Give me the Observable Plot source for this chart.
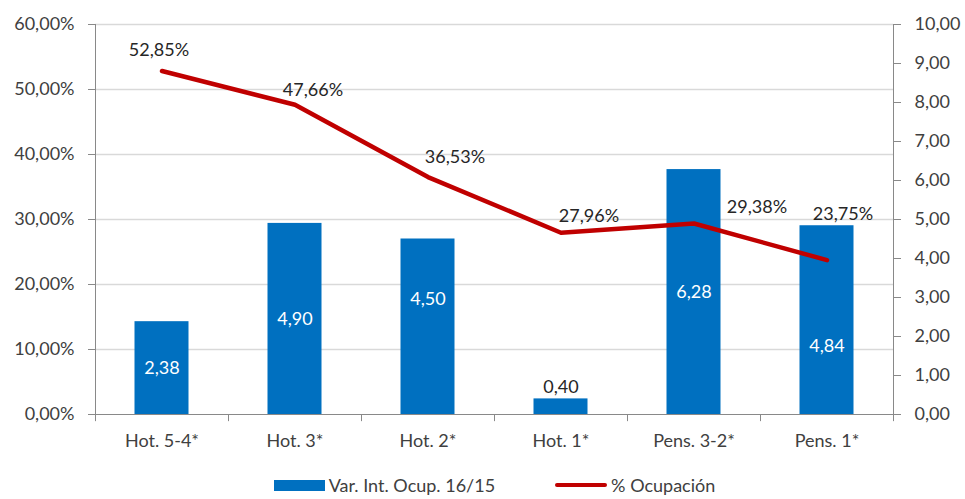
<!DOCTYPE html>
<html><head><meta charset="utf-8">
<script src="https://cdn.jsdelivr.net/npm/d3@7"></script>
<script src="https://cdn.jsdelivr.net/npm/@observablehq/plot@0.6"></script>
<style>
html,body{margin:0;padding:0;background:#fff;}
body{width:965px;height:499px;overflow:hidden;font-family:Lato, "Noto Sans", sans-serif;}
#legend{display:flex;justify-content:center;align-items:center;height:26px;font-size:18px;color:#404040;padding-left:24px;}
.item{display:flex;align-items:center;margin:0 30px;}
.sw-bar{width:51px;height:11px;background:#0070C0;margin-right:4px;}
.sw-line{width:52px;height:4px;border-radius:2px;background:#C00000;margin-right:4px;}
</style></head><body>
<div id="chart"></div>
<div id="legend"></div>
<script>
const categories = ["Hot. 5-4*", "Hot. 3*", "Hot. 2*", "Hot. 1*", "Pens. 3-2*", "Pens. 1*"];
const variacion = [2.38, 4.90, 4.50, 0.40, 6.28, 4.84];      // right axis
const ocupacion = [52.85, 47.66, 36.53, 27.96, 29.38, 23.75]; // left axis (%)
const leftTicks = [0, 10, 20, 30, 40, 50, 60];
const rightTicks = [0, 1, 2, 3, 4, 5, 6, 7, 8, 9, 10];
const seriesNames = ["Var. Int. Ocup. 16/15", "% Ocupación"];

// label nudges (pixels), style only
const lineLabelDx = [-3, 18, 27, 28, 63, 16];
const lineLabelDy = [-21, -14, -20, -17, -16, -46];
const barLabelDy = [0, 0, -28, 0, 0, 26];

const ratio = 60 / 10;
const fmt = (v, d = 2) => v.toFixed(d).replace(".", ",");
const idx = categories.map((_, i) => i);
const textColor = "#404040";
const axisColor = "#898989";

const W = 965, H = 472;
const chart = Plot.plot({
  width: W, height: H,
  marginLeft: 95, marginRight: 72, marginTop: 24, marginBottom: H - 414,
  style: {fontFamily: "Lato, 'Noto Sans', sans-serif", fontSize: "18px", color: textColor, background: "#fff"},
  x: {type: "band", domain: categories, padding: 0, axis: null},
  y: {domain: [0, 60], axis: null},
  marks: [
    Plot.ruleY(leftTicks.filter(d => d > 0), {stroke: "#D9D9D9", strokeWidth: 1.3}),
    Plot.barY(idx, {x: i => categories[i], y: i => variacion[i] * ratio, fill: "#0070C0", insetLeft: 39.5, insetRight: 39.5}),
    // axes
    Plot.axisY(leftTicks, {anchor: "left", tickSize: 7, tickPadding: 14, stroke: axisColor, tickFormat: d => fmt(d) + "%", fill: textColor}),
    Plot.axisY(rightTicks.map(d => d * ratio), {anchor: "right", tickSize: 7, tickPadding: 14, stroke: axisColor, tickFormat: d => fmt(d / ratio), fill: textColor, textAnchor: "start"}),
    Plot.axisX(categories, {anchor: "bottom", tickSize: 0, tickPadding: 20, fill: textColor}),
    Plot.ruleX([categories[0]], {x: d => d, dx: -66.5, y1: 0, y2: 60, stroke: axisColor}),
    Plot.ruleX([categories[categories.length - 1]], {x: d => d, dx: 66.5, y1: 0, y2: 60, stroke: axisColor}),
    Plot.ruleX(categories, {x: d => d, dx: -66.5, y1: 0, y2: -1.1, stroke: axisColor}),
    Plot.ruleX([categories[categories.length - 1]], {x: d => d, dx: 66.5, y1: 0, y2: -1.1, stroke: axisColor}),
    Plot.ruleY([0], {stroke: axisColor}),
    // line
    Plot.line(idx, {x: i => categories[i], y: i => ocupacion[i], stroke: "#C00000", strokeWidth: 4.5, strokeLinejoin: "round", strokeLinecap: "round"}),
    // line labels
    ...idx.map(i => Plot.text([i], {x: i => categories[i], y: i => ocupacion[i], text: i => fmt(ocupacion[i]) + "%", dx: lineLabelDx[i], dy: lineLabelDy[i], fill: "#262626", fontSize: 18})),
    // bar labels
    ...idx.map(i => Plot.text([i], {
      x: i => categories[i],
      y: i => variacion[i] < 1 ? variacion[i] * ratio : variacion[i] * ratio / 2,
      text: i => fmt(variacion[i]),
      dy: variacion[i] < 1 ? -12 : barLabelDy[i],
      fill: variacion[i] < 1 ? "#262626" : "#ffffff",
      fontSize: 18
    }))
  ]
});
document.getElementById("chart").append(chart);

document.getElementById("legend").innerHTML =
  `<div class="item"><div class="sw-bar"></div><span>${seriesNames[0]}</span></div>` +
  `<div class="item"><div class="sw-line"></div><span>${seriesNames[1]}</span></div>`;
</script>
</body></html>
